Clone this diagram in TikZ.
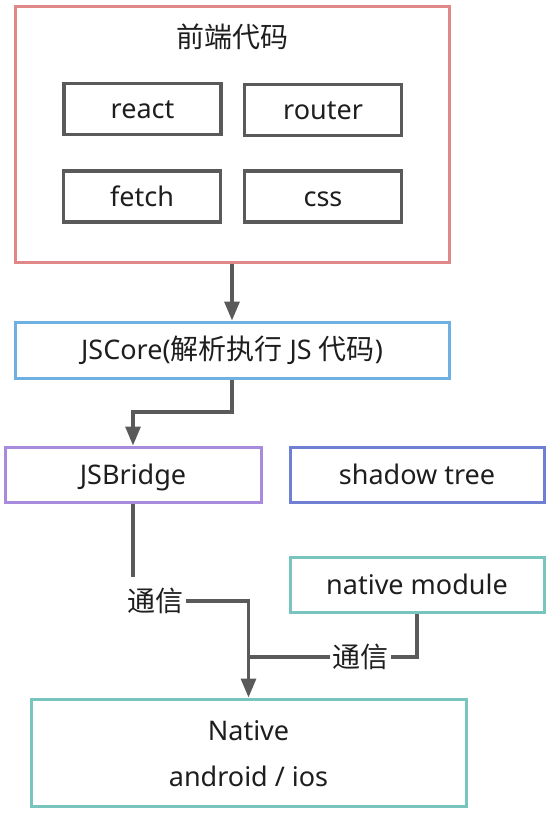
\documentclass[tikz,border=0pt]{standalone}
\usepackage{fontspec}
\setmainfont{Noto Sans}
\newfontfamily\cjk{Noto Sans CJK SC}
\usetikzlibrary{arrows.meta}
\definecolor{cpink}{HTML}{E08888}
\definecolor{cblue}{HTML}{6DB0E1}
\definecolor{cpurple}{HTML}{A88BDC}
\definecolor{cindigo}{HTML}{6F80D2}
\definecolor{cteal}{HTML}{78C5C0}
\definecolor{cgray}{HTML}{5A5A5A}
\definecolor{ctext}{HTML}{1E1E1E}
\newcommand{\cj}[1]{{\fontsize{28}{30}\selectfont\cjk #1}}
\tikzset{
  txt/.style={inner sep=0pt, text=ctext, text height=19.5pt, text depth=0pt, font=\fontsize{27}{30}\selectfont},
  box/.style={txt, draw, line width=3pt, fill=white, minimum width=#1},
  inbox/.style={box=157pt, draw=cgray, line width=3.5pt, minimum height=51pt},
  lbl/.style={inner sep=2pt, text=ctext, text height=20pt, text depth=0pt, font=\fontsize{28}{30}\selectfont\cjk},
  conn/.style={draw=cgray, line width=3.2pt},
  arr/.style={conn, -{Triangle[width=15pt,length=19pt]}},
}
\begin{document}
\begin{tikzpicture}[x=1pt,y=-1pt]
\useasboundingbox (0,0) rectangle (554,813);
% front-end frame
\node[box=434pt, draw=cpink, minimum height=255pt] (front) at (232,134.5) {};
\node[lbl] (title) at (232,38) {前端代码};
\node[inbox] (react) at (142.5,109) {react};
\node[inbox] (router) at (323,110) {router};
\node[inbox] (fetch) at (142,196.5) {fetch};
\node[inbox] (css) at (323,196.5) {css};
% JSCore
\node[box=434pt, draw=cblue, minimum height=56pt] (jscore) at (232,350) {JSCore(\cj{解析执行} JS \cj{代码})};
% bridge / shadow
\node[box=256pt, draw=cpurple, minimum height=55pt] (jsb) at (133,474.5) {JSBridge};
\node[box=254pt, draw=cindigo, minimum height=55pt] (shadow) at (417,474.5) {shadow tree};
\node[box=254pt, draw=cteal, minimum height=55pt] (nm) at (417,585) {native module};
% native
\node[box=435pt, draw=cteal, minimum height=107pt] (native) at (248.5,752.5) {};
\node[txt] (nt1) at (248.5,731) {Native};
\node[txt] (nt2) at (248.5,777) {android / ios};
% labels
\node[lbl] (t1) at (155.5,601) {通信};
\node[lbl] (t2) at (360.5,657) {通信};
% connectors
\coordinate (b1) at (232,412);
\coordinate (e1) at (133,577);
\draw[arr] (front) -- (jscore);
\draw[arr] (jscore.south) -- (b1) -| (jsb.north);
\draw[conn] (jsb.south) -- (e1);
\draw[arr] (t1.east) -| (native.north);
\draw[conn] (nm.south) |- (t2.east);
\draw[conn] (t2.west) -- (t2.west -| native.north);
\end{tikzpicture}
\end{document}
